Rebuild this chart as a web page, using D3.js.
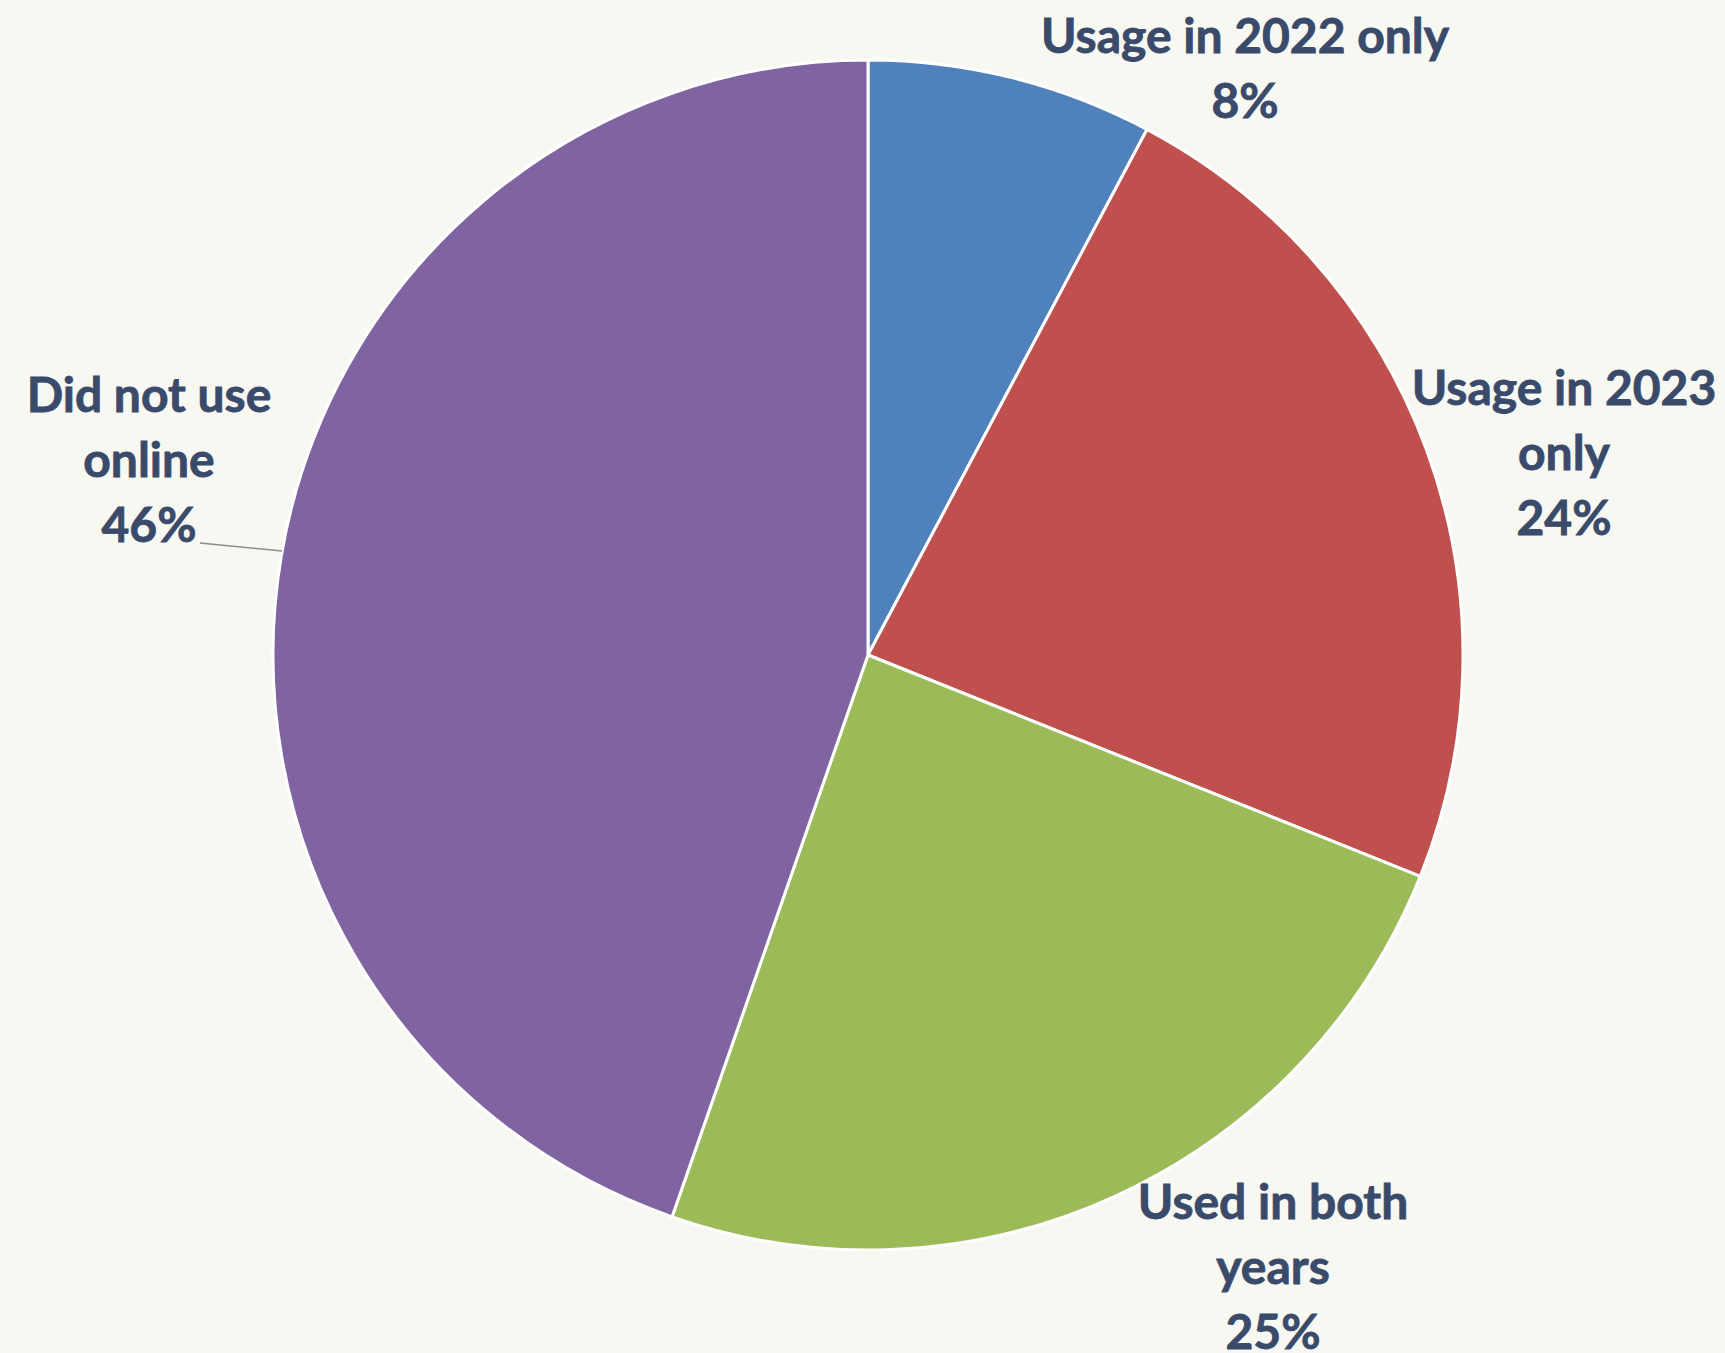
<!DOCTYPE html>
<html>
<head>
<meta charset="utf-8">
<script src="https://cdn.jsdelivr.net/npm/d3@7"></script>
<style>
  html, body { margin: 0; padding: 0; background: #f8f8f2; }
  svg { display: block; }
  text { font-family: Lato, "Open Sans", sans-serif; font-weight: 700; fill: #3a4a6a; stroke: #3a4a6a; stroke-width: 0.8px; }
</style>
</head>
<body>
<svg id="chart" width="1725" height="1353"></svg>
<script>
// Share of respondents by online usage pattern
const categories = ["Usage in 2022 only", "Usage in 2023 only", "Used in both years", "Did not use online"];
const values = [8, 24, 25, 46];
const colors = ["#4f81bd", "#c0504d", "#9bbb59", "#8064a2"];

// Label text broken into lines, and where each label block sits
const labelLines = [
  ["Usage in 2022 only", "8%"],
  ["Usage in 2023", "only", "24%"],
  ["Used in both", "years", "25%"],
  ["Did not use", "online", "46%"]
];
const labelLayout = [
  { x: 1245, y: 53 },
  { x: 1564, y: 405 },
  { x: 1273, y: 1219 },
  { x: 149, y: 412 }
];
const lineStep = 65;

const width = 1725, height = 1353;
const cx = 868, cy = 655, radius = 595;

const svg = d3.select("#chart");
const g = svg.append("g").attr("transform", `translate(${cx},${cy})`);

const data = categories.map((c, i) => ({ category: c, value: values[i], color: colors[i] }));

const pie = d3.pie().value(d => d.value).sort(null);
const arc = d3.arc().innerRadius(0).outerRadius(radius);
const arcs = pie(data);

g.selectAll("path.slice")
  .data(arcs)
  .join("path")
  .attr("class", "slice")
  .attr("d", arc)
  .attr("fill", d => d.data.color)
  .attr("stroke", "#ffffff")
  .attr("stroke-width", 3)
  .attr("stroke-linejoin", "round");

// Leader line for the left-hand label, ending on the pie rim
const leaderY = 551 - cy;
const leaderX = -Math.sqrt(radius * radius - leaderY * leaderY);
svg.append("path")
  .attr("d", `M${200},${543} L${cx + leaderX},${cy + leaderY}`)
  .attr("stroke", "#8c8c8c")
  .attr("stroke-width", 1.5)
  .attr("fill", "none");

const fontSize = 48;
labelLines.forEach((lines, i) => {
  const pos = labelLayout[i];
  const t = svg.append("text")
    .attr("text-anchor", "middle")
    .attr("font-size", fontSize);
  lines.forEach((ln, j) => {
    t.append("tspan")
      .attr("x", pos.x)
      .attr("y", pos.y + j * lineStep)
      .text(ln);
  });
});
</script>
</body>
</html>
